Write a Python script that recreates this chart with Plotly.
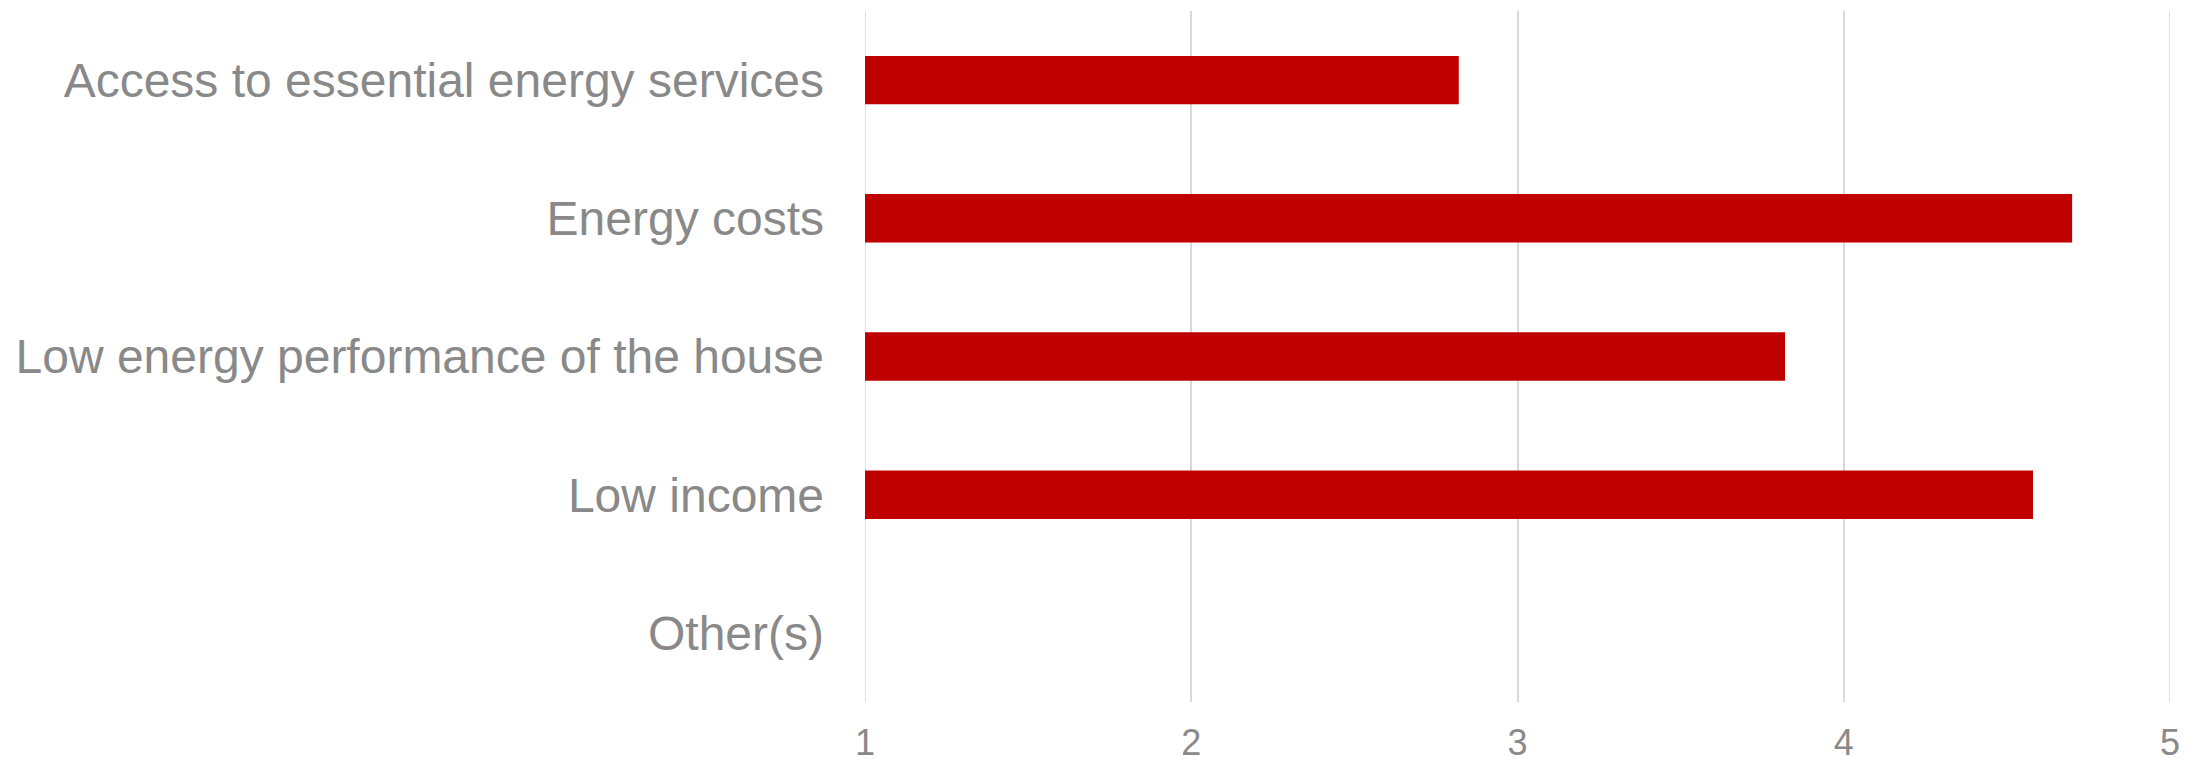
import plotly.graph_objects as go

categories = [
    "Access to essential energy services",
    "Energy costs",
    "Low energy performance of the house",
    "Low income",
    "Other(s)",
]
values = [2.82, 4.70, 3.82, 4.58, None]
x_ticks = [1, 2, 3, 4, 5]

fig = go.Figure(
    go.Bar(
        y=categories,
        x=values,
        orientation="h",
        marker=dict(color="#C00000", line=dict(width=0)),
        width=0.35,
    )
)

grid_color = "#D9D9D9"
# gridlines at the range edges (plotly omits those on the plot boundary)
for t in (x_ticks[0], x_ticks[-1]):
    fig.add_shape(
        type="line", xref="x", yref="paper", x0=t, x1=t, y0=0, y1=1,
        line=dict(color=grid_color, width=1.5), layer="below",
    )

fig.update_layout(
    width=2205,
    height=762,
    margin=dict(l=865, r=35, t=11, b=60, autoexpand=False),
    paper_bgcolor="white",
    plot_bgcolor="white",
    showlegend=False,
    font=dict(family="Liberation Sans, Arial, sans-serif", color="#898989"),
    xaxis=dict(
        range=[1, 5],
        tickvals=x_ticks,
        ticktext=[str(t) for t in x_ticks],
        showgrid=True,
        gridcolor=grid_color,
        gridwidth=1.5,
        zeroline=False,
        showline=False,
        ticks="",
        tickfont=dict(size=36, color="#898989"),
        ticklabelstandoff=16,
        automargin=False,
        fixedrange=True,
    ),
    yaxis=dict(
        autorange="reversed",
        showgrid=False,
        zeroline=False,
        showline=False,
        ticks="",
        tickfont=dict(size=48, color="#898989"),
        ticklabelstandoff=40,
        automargin=False,
        fixedrange=True,
    ),
)

fig.write_html("out.html")
